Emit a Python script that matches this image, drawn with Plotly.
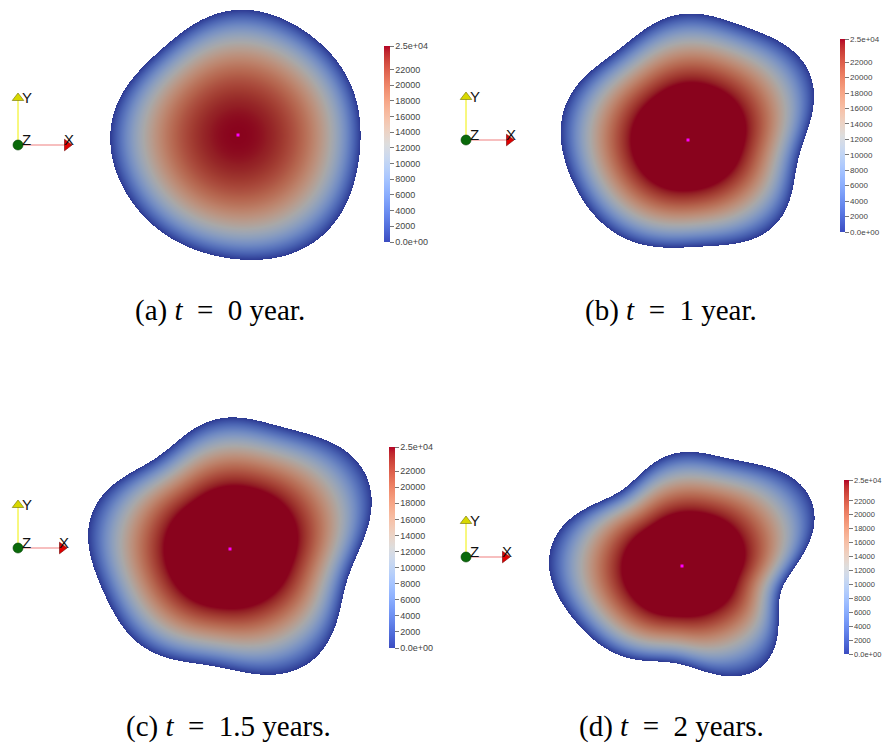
import numpy as np
import plotly.graph_objects as go

W, H = 882, 747

# ParaView "Cool to Warm" diverging table (Moreland)
CW_POS = [i / 32 for i in range(33)]
CW_RGB = [
    (59, 76, 192), (68, 90, 204), (77, 104, 215), (87, 117, 225), (98, 130, 234),
    (108, 142, 241), (119, 154, 247), (130, 165, 251), (141, 176, 254), (152, 185, 255),
    (163, 194, 255), (174, 201, 253), (184, 208, 249), (194, 213, 244), (204, 217, 238),
    (213, 219, 230), (221, 221, 221), (229, 216, 209), (236, 211, 197), (241, 204, 185),
    (245, 196, 173), (247, 187, 160), (247, 177, 148), (247, 166, 135), (244, 154, 123),
    (241, 141, 111), (236, 127, 99), (229, 112, 88), (222, 96, 77), (213, 80, 66),
    (203, 62, 56), (192, 40, 47), (180, 4, 38),
]
SHADE = 0.76  # diffuse lighting on the rendered surface

# colour range and colour-bar labels
VMIN, VMAX = 0, 25000
CBAR_TICKS = [0, 2000, 4000, 6000, 8000, 10000, 12000, 14000, 16000, 18000, 20000, 22000, 25000]
CBAR_TEXT = ["0.0e+00", "2000", "4000", "6000", "8000", "10000", "12000", "14000",
             "16000", "18000", "20000", "22000", "2.5e+04"]

NB = "&nbsp;"
CAPTIONS = [f"(a) <i>t</i>{NB} ={NB} 0 year.",
            f"(b) <i>t</i>{NB} ={NB} 1 year.",
            f"(c) <i>t</i>{NB} ={NB} 1.5 years.",
            f"(d) <i>t</i>{NB} ={NB} 2 years."]

# peak concentration of each snapshot (values above VMAX saturate)
PEAK = [25000, 31600, 32500, 32500]
# radial decay exponent of the concentration profile
PROFILE_EXP = [2.4, 2.0, 2.0, 2.0]

# tumour centre of each snapshot
CENTER_X = [238, 688, 230, 682]
CENTER_Y = [135, 140, 549, 566]

# tumour outlines
OUTLINE_A_X = [243, 197, 157, 130, 113, 109, 113, 130, 157, 183, 217, 247, 287, 320, 343, 357, 362, 360, 347, 327, 300, 273]
OUTLINE_A_Y = [8, 20, 50, 80, 110, 133, 167, 203, 230, 247, 257, 262, 257, 240, 213, 180, 140, 110, 73, 47, 27, 13]

OUTLINE_B_X = [687, 660, 637, 607, 580, 565, 560, 563, 573, 590, 613, 647, 690, 727, 757, 780, 793, 803, 810, 815, 812, 800, 780, 753, 720]
OUTLINE_B_Y = [13, 18, 33, 57, 80, 100, 127, 157, 187, 213, 233, 247, 250, 245, 238, 225, 187, 150, 127, 100, 77, 57, 40, 27, 17]

OUTLINE_C_X = [233, 207, 187, 157, 123, 100, 88, 87, 93, 107, 123, 147, 177, 213, 247, 270, 293, 317, 333, 343, 350, 360, 370, 372, 367, 353, 327, 293, 263]
OUTLINE_C_Y = [416, 422, 433, 453, 477, 497, 520, 540, 570, 603, 630, 650, 663, 667, 673, 677, 673, 657, 633, 607, 577, 550, 523, 500, 473, 453, 440, 430, 418]

OUTLINE_D_X = [680, 657, 640, 623, 597, 570, 553, 548, 553, 567, 587, 613, 647, 680, 713, 740, 763, 773, 778, 787, 800, 810, 815, 810, 793, 767, 733, 707]
OUTLINE_D_Y = [452, 460, 473, 487, 503, 517, 537, 560, 587, 613, 637, 653, 662, 667, 673, 677, 670, 653, 620, 587, 560, 540, 513, 490, 477, 467, 457, 452]

OUTLINES = [(OUTLINE_A_X, OUTLINE_A_Y), (OUTLINE_B_X, OUTLINE_B_Y),
            (OUTLINE_C_X, OUTLINE_C_Y), (OUTLINE_D_X, OUTLINE_D_Y)]

# ---- layout of each panel (pixels) ----
CBAR_BOX = [  # left, top, bottom, thickness, font size
    (384, 46, 242, 6, 9),
    (840, 39, 232, 5, 8),
    (389, 447, 648, 6, 9),
    (844, 480, 654, 5, 7.5),
]
TRIAD = [  # origin x, origin y, y-tip, x-tip
    (18, 145, 93, 72),
    (466, 140, 92, 514),
    (18, 548, 500, 67),
    (466, 557, 516, 510),
]
CAPTION_POS = [(220, 310), (671, 310), (228, 726), (671, 726)]


def colorscale(factor):
    return [[p, "rgb(%d,%d,%d)" % tuple(round(c * factor) for c in rgb)]
            for p, rgb in zip(CW_POS, CW_RGB)]


def radius_function(xs, ys, cx, cy, K=6, lam=0.3):
    xs = np.asarray(xs, float)
    ys = np.asarray(ys, float)
    th = np.arctan2(-(ys - cy), xs - cx)
    r = np.hypot(xs - cx, ys - cy)

    def basis(t):
        cols = [np.ones_like(t)]
        for k in range(1, K + 1):
            cols += [np.cos(k * t), np.sin(k * t)]
        return np.stack(cols, axis=-1)

    M = basis(th)
    coef = np.linalg.solve(M.T @ M + lam * np.eye(M.shape[1]), M.T @ r)
    return lambda t: basis(t) @ coef


fig = go.Figure()
shaded = colorscale(SHADE)
plain = colorscale(1.0)

for i, (ox_list, oy_list) in enumerate(OUTLINES):
    cx, cy = CENTER_X[i], CENTER_Y[i]
    R_edge = radius_function(ox_list, oy_list, cx, cy, K=6)
    R_core = radius_function(ox_list, oy_list, cx, cy, K=2)
    x0, x1 = min(ox_list) - 6, max(ox_list) + 6
    y0, y1 = min(oy_list) - 6, max(oy_list) + 6
    gx = np.arange(x0, x1) + 0.5
    gy = np.arange(y0, y1) + 0.5
    XX, YY = np.meshgrid(gx, gy)
    th = np.arctan2(-(YY - cy), XX - cx)
    rr = np.hypot(XX - cx, YY - cy)
    s_edge = rr / R_edge(th)
    s_core = rr / R_core(th)
    w = np.clip(s_edge, 0, 1) ** 2
    s = w * s_edge + (1 - w) * s_core
    z = PEAK[i] * (1.0 - np.clip(s, 0, None) ** PROFILE_EXP[i])
    z[s_edge > 1] = np.nan
    fig.add_trace(go.Heatmap(
        x=gx, y=gy, z=z.astype(np.float32), colorscale=shaded, zmin=VMIN, zmax=VMAX,
        showscale=False, hoverinfo="skip"))

    # colour bar
    left, top, bottom, thick, fsize = CBAR_BOX[i]
    fig.add_trace(go.Scatter(
        x=[cx], y=[cy], mode="markers", hoverinfo="skip", showlegend=False,
        marker=dict(size=1, opacity=0, color=[VMIN], cmin=VMIN, cmax=VMAX,
                    colorscale=plain, showscale=True,
                    colorbar=dict(
                        thickness=thick, thicknessmode="pixels",
                        len=bottom - top, lenmode="pixels",
                        x=left / W, xanchor="left", y=1 - top / H, yanchor="top",
                        xpad=0, ypad=0, outlinewidth=0, borderwidth=0,
                        tickmode="array", tickvals=CBAR_TICKS, ticktext=CBAR_TEXT,
                        ticks="outside", ticklen=4, tickwidth=1, tickcolor="#777",
                        tickfont=dict(size=fsize, color="#444", family="Liberation Sans")))))

    # centre marker
    fig.add_trace(go.Scatter(
        x=[cx], y=[cy], mode="markers", hoverinfo="skip", showlegend=False,
        marker=dict(symbol="square", size=3, color="#ff00ff", line=dict(width=0))))

    # orientation axes
    ox, oy, ytip, xtip = TRIAD[i]
    fig.add_trace(go.Scatter(x=[ox, ox], y=[oy, ytip + 6], mode="lines", showlegend=False,
                             hoverinfo="skip", line=dict(color="#f0f000", width=1)))
    fig.add_trace(go.Scatter(x=[ox, xtip - 6], y=[oy, oy], mode="lines", showlegend=False,
                             hoverinfo="skip", line=dict(color="#f08080", width=1.2)))
    fig.add_trace(go.Scatter(x=[ox], y=[ytip + 5], mode="markers", showlegend=False, hoverinfo="skip",
                             marker=dict(symbol="triangle-up", size=10, color="#d8d800",
                                         line=dict(color="#707000", width=0.6))))
    fig.add_trace(go.Scatter(x=[xtip - 5], y=[oy], mode="markers", showlegend=False, hoverinfo="skip",
                             marker=dict(symbol="triangle-right", size=10, color="#e00000",
                                         line=dict(color="#700000", width=0.6))))
    fig.add_trace(go.Scatter(x=[ox], y=[oy], mode="markers", showlegend=False, hoverinfo="skip",
                             marker=dict(symbol="circle", size=10, color="#0a6a0a",
                                         line=dict(color="#044004", width=0.6))))
    for txt, tx, ty in (("Y", ox + 2, ytip + 4), ("Z", ox + 2, oy - 6), ("X", xtip - 10, oy - 6)):
        fig.add_annotation(x=tx, y=ty, text=txt, showarrow=False, xanchor="left", yanchor="middle",
                           font=dict(size=15, color="#111", family="Liberation Sans"))

    # caption
    px, py = CAPTION_POS[i]
    fig.add_annotation(x=px, y=py, text=CAPTIONS[i], showarrow=False, xanchor="center",
                       yanchor="middle", font=dict(size=29, color="black", family="Liberation Serif"))

fig.update_xaxes(range=[0, W], visible=False, fixedrange=True)
fig.update_yaxes(range=[H, 0], visible=False, fixedrange=True)
fig.update_layout(width=W, height=H, margin=dict(l=0, r=0, t=0, b=0),
                  paper_bgcolor="white", plot_bgcolor="white", showlegend=False)

fig.write_html("out.html")
